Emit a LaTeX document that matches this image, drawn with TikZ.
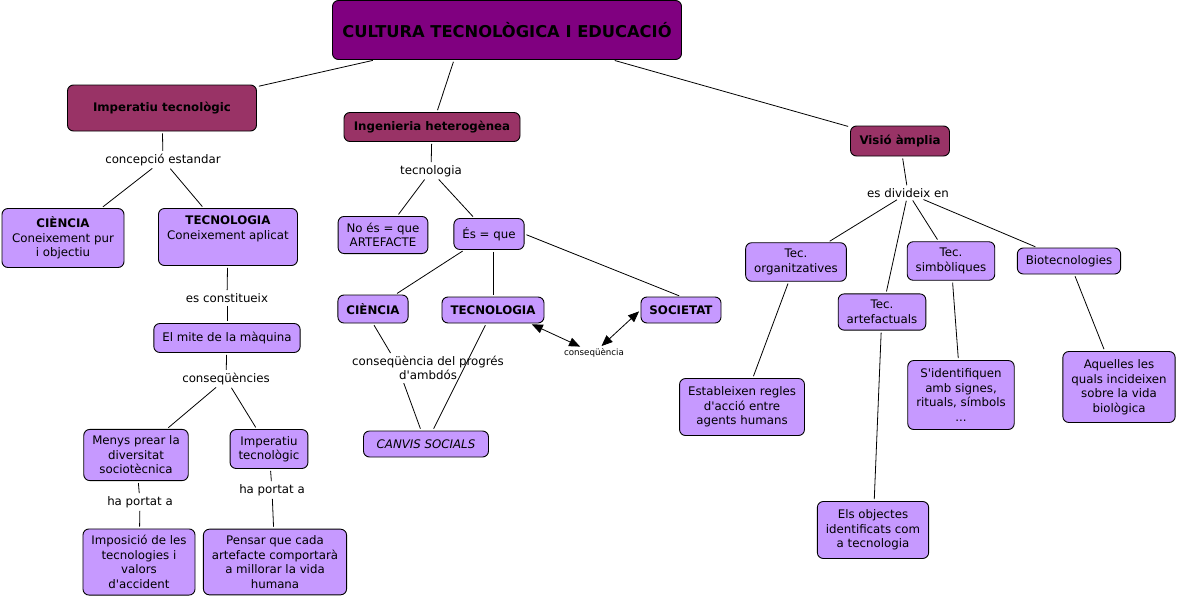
\documentclass[tikz,border=0pt]{standalone}
\usepackage{fontspec}
\setmainfont{DejaVu Sans}[Ligatures=TeXOff]
\usetikzlibrary{arrows.meta}
\definecolor{lila}{HTML}{C699FF}
\definecolor{grana}{HTML}{993366}
\definecolor{morat}{HTML}{800080}
\newcommand{\txt}{\fontsize{11.8}{14.5}\selectfont}
\tikzset{
  concept/.style={draw, line width=0.9pt, rounded corners=6pt, fill=lila, align=center,
    inner xsep=8.5pt, inner ysep=6.5pt, minimum height=26pt, font=\txt},
  topic/.style={concept, fill=grana, font=\txt\bfseries},
  frase/.style={align=center, inner sep=1pt, font=\txt},
  link/.style={line width=0.8pt, shorten <=2pt, shorten >=2pt},
  dlink/.style={link, {Triangle[length=11pt,width=9pt]}-{Triangle[length=11pt,width=9pt]}}
}
\begin{document}
\begin{tikzpicture}[x=1pt,y=-1pt]
\useasboundingbox (0,0) rectangle (1177,600);
\node[topic, fill=morat, font=\fontsize{16.3}{19}\selectfont\bfseries, minimum width=349pt, minimum height=59pt] (root) at (507,30) {CULTURA TECNOLÒGICA I EDUCACIÓ};
\node[topic, minimum width=189pt, minimum height=46pt] (imp) at (162,108) {Imperatiu tecnològic};
\node[topic, minimum width=176pt, minimum height=29pt] (ing) at (432,127) {Ingenieria heterogènea};
\node[topic, minimum width=99pt, minimum height=30pt] (vis) at (900,141) {Visió àmplia};
\node[concept, minimum width=122pt, minimum height=59pt] (cien) at (63,238) {\textbf{CIÈNCIA}\\Coneixement pur\\i objectiu};
\node[concept, minimum width=139pt, minimum height=57pt] (tec) at (228,237) {\textbf{TECNOLOGIA}\\Coneixement aplicat\\\strut};
\node[concept, minimum height=29pt] (mite) at (227,338) {El mite de la màquina};
\node[concept] (menys) at (136,455) {Menys prear la\\diversitat\\sociotècnica};
\node[concept] (imp2) at (269,449) {Imperatiu\\tecnològic};
\node[concept] (impos) at (139,562) {Imposició de les\\tecnologies i\\valors\\d'accident};
\node[concept] (pensar) at (275,562) {Pensar que cada\\artefacte comportarà\\a millorar la vida\\humana};
\node[concept] (noes) at (383,235) {No és = que\\ARTEFACTE};
\node[concept, minimum height=31pt] (es) at (489,234) {És = que};
\node[concept, minimum height=28pt, font=\txt\bfseries] (cien2) at (373,309) {CIÈNCIA};
\node[concept, font=\txt\bfseries] (tec2) at (493,310) {TECNOLOGIA};
\node[concept, font=\txt\bfseries] (soc) at (681,310) {SOCIETAT};
\node[concept, font=\txt\itshape, minimum width=125pt] (canvis) at (426,444) {CANVIS SOCIALS};
\node[concept] (org) at (796,262) {Tec.\\organitzatives};
\node[concept] (art) at (882,312) {Tec.\\artefactuals};
\node[concept] (simb) at (951,261) {Tec.\\simbòliques};
\node[concept] (bio) at (1069,261) {Biotecnologies};
\node[concept, minimum height=57pt] (estab) at (742,407) {Estableixen regles\\d'acció entre\\agents humans};
\node[concept, minimum height=69pt] (sident) at (961,395) {S'identifiquen\\amb signes,\\rituals, símbols\\...};
\node[concept, minimum height=71pt] (aqu) at (1119,387) {Aquelles les\\quals incideixen\\sobre la vida\\biològica};
\node[concept, minimum height=57pt] (objs) at (873,530) {Els objectes\\identificats com\\a tecnologia};
\node[frase] (p1) at (163,160) {concepció estandar};
\node[frase] (p2) at (227,298) {es constitueix};
\node[frase] (p3) at (226,379) {conseqüències};
\node[frase] (p4) at (140,502) {ha portat a};
\node[frase] (p5) at (272,490) {ha portat a};
\node[frase] (p6) at (431,171) {tecnologia};
\node[frase] (p7) at (428,368) {conseqüència del progrés\\d'ambdós};
\node[frase, font=\fontsize{8.7}{10}\selectfont] (p8) at (594,353) {conseqüència};
\node[frase] (p9) at (908,193) {es divideix en};
\draw[link] ([xshift=-53pt]root.south) -- (ing);
\draw[link] (es.south -| tec2.north) -- (tec2.north);
\foreach \a/\b in {root/imp, root/vis, imp/p1, p1/cien, p1/tec, tec/p2, p2/mite, mite/p3,
  p3/menys, p3/imp2, menys/p4, p4/impos, imp2/p5, p5/pensar, ing/p6, p6/noes, p6/es,
  es/cien2, es.east/soc.north, cien2.south/p7.160, p7.208/canvis, tec2/canvis,
  vis/p9, p9/org, p9/art, p9/simb, p9/bio, org/estab, art/objs, simb/sident, bio/aqu}
  \draw[link] (\a) -- (\b);
\draw[dlink] (tec2.-20) -- (p8);
\draw[dlink] (p8) -- (soc.west);
\end{tikzpicture}
\end{document}
